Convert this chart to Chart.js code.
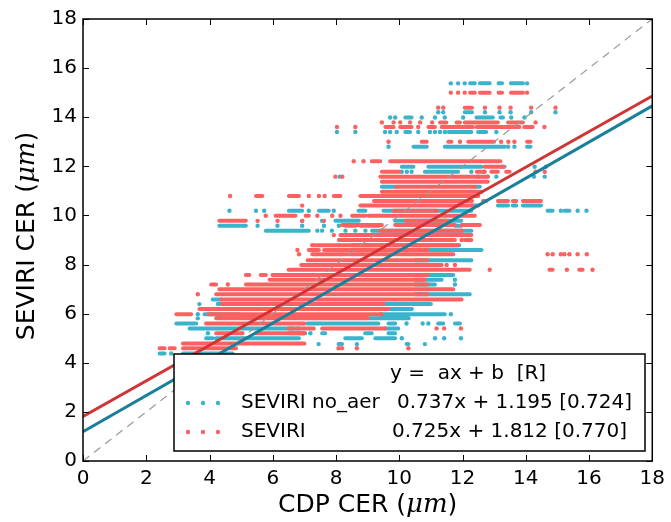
<!DOCTYPE html>
<html lang="en">
<head>
<meta charset="UTF-8" />
<title>SEVIRI CER vs CDP CER</title>
<script src="https://cdn.jsdelivr.net/npm/chart.js"></script>
<style>
  body { margin: 0; background: #fff; }
  canvas { display: block; }
</style>
</head>
<body>
<canvas id="grafico" width="671" height="522"></canvas>
<script>
  // ticks of both axes (µm)
  const axisTicks = [0, 2, 4, 6, 8, 10, 12, 14, 16, 18]

  // fit coefficients: y = a x + b [R]
  const fitNoAer = { a: 0.737, b: 1.195, r: 0.724 }
  const fitAer = { a: 0.725, b: 1.812, r: 0.770 }
  const fitX = [0, 18]
  const oneToOne = [0, 18]

  // SEVIRI CER comes out in discrete levels, so the scatter is a set of rows.
  // each row: [seviri CER, then CDP CER values]; a pair [x0, x1] is a run of
  // points packed so close together that they read as one stripe
  const noAerRows = [
    [15.38, 11.63, 11.86, 12.07, [12.24, 12.39], [12.55, 12.86], [13.14, 13.25], [13.53, 13.91], 14.04],
    [14.2, 11.23, 11.39, [12.07, 12.3], 12.71, 13.17, 13.52, 14.17, 14.94],
    [13.99, 9.71, 9.87, [10.19, 10.39], 10.71, 11.13, 11.44, 12.02, [12.44, 12.96], [13.2, 13.28], 13.54, 13.96],
    [13.4, 8.03, 8.61, 9.55, 9.71, 9.92, [10.19, 10.34], 10.6, 10.97, 11.13, 11.29, 11.44, [11.55, 12.28], [12.49, 12.75], 13.07],
    [12.8, 9.66, [10.45, 10.87], [11.44, 13.33], 13.44, 13.64, [14.04, 14.15]],
    [11.98, [10.08, 10.45], [10.92, 12.6], [13.23, 13.33], 14.28, 14.64],
    [11.78, 10.08, 10.24, 10.39, [10.81, 11.86], 12.28, 12.65],
    [11.58, 8.12, 12.49, 12.8, 13.07, 14.26, 14.6],
    [11.17, [9.45, 9.9], [12.4, 12.55]],
    [10.4, [12.3, 12.5], [13.12, 13.44], [13.59, 13.7], [13.91, 14.48]],
    [10.19, 4.63, 5.47, 5.73, [6.51, 6.93], 7.14, [7.46, 7.77], 7.93, [8.71, 8.93], [9.5, 12.28], [14.69, 14.85], 15.11, [15.22, 15.38], 15.64, 15.92],
    [9.78, 6.93, 7.56, [7.98, 8.72], [9.87, 11.96]],
    [9.58, [4.31, 5.15], 5.52, 6.15, 6.93, 7.62, 8.09, [8.3, 8.61], [8.77, 9.35], [11.76, 11.97]],
    [9.38, [5.78, 7.14], 7.41, 7.56, 7.87, 8.3, 8.61, 8.93, [9.14, 12.28]],
    [8.79, 8.09, [8.5, 11.9]],
    [8.59, [10.5, 12.6]],
    [8.18, [10.5, 12.28]],
    [7.57, [10.5, 11.71]],
    [7.38, [10.5, 11.34], 11.76],
    [7.19, [10.5, 11.13], 11.76],
    [6.79, [10.5, 12.23]],
    [6.58, [4.1, 4.37]],
    [6.39, 3.68, [4.26, 11.0]],
    [6.19, [9.66, 10.4]],
    [5.98, 3.63, [3.84, 4.94], [9.4, 11.44], 11.63],
    [5.81, 3.63, [9.0, 10.3]],
    [5.6, [2.95, 3.58], [7.09, 9.34], [9.66, 9.87], 10.23, 10.74, 10.92, [11.23, 11.39], [11.76, 11.92]],
    [5.4, [3.37, 6.83], [9.55, 9.97]],
    [5.2, 3.95, [6.51, 7.03], 7.19, [7.56, 7.66], [8.92, 9.13], [9.66, 9.87]],
    [5.0, [3.89, 4.1], [4.21, 6.83], [8.29, 8.82], [9.24, 9.87], 10.08, 11.13, 11.42, 11.95],
    [4.76, 7.45, [8.08, 8.19], 8.66, [10.23, 10.29], 10.81],
    [4.38, [2.42, 2.58], 2.79, [3.16, 4.73]]
  ]

  const aerRows = [
    [15.0, 11.63, 11.86, 12.07, [12.24, 12.39], [12.55, 12.86], [13.14, 13.25], [13.53, 13.91], 14.04],
    [14.39, 11.23, 11.39, [12.07, 12.3], 12.71, 13.17, 13.52, 14.17, 14.94],
    [13.79, 9.45, 9.82, 10.03, 10.34, 10.66, 11.04, [11.29, 11.49], [11.81, 11.92], [12.07, 13.12], [13.44, 13.91], 14.31],
    [13.6, 8.03, 8.61, [9.56, 9.82], [10.03, 10.39], 10.6, [10.92, 11.13], [11.34, 12.33], [12.45, 13.8], [13.95, 14.22], 14.59],
    [13.0, 9.66, [10.71, 10.87], [11.55, 11.65], 11.92, [12.18, 13.0], 13.22, 13.45, 13.64, [14.04, 14.15]],
    [12.21, 8.56, 8.87, [9.13, 9.4], [9.71, 13.2]],
    [11.98, [12.7, 13.3]],
    [11.78, [9.45, 10.0], [12.45, 12.6], 12.7, [12.91, 13.12], [13.38, 13.49], 14.31, 14.6],
    [11.58, 7.98, 8.2, [9.4, 12.8]],
    [11.37, [9.45, 12.8]],
    [11.17, [9.9, 12.4]],
    [10.97, [9.45, 12.6]],
    [10.79, 4.65, [5.47, 5.67], [6.51, 6.83], 7.14, 7.46, 7.64, [7.93, 8.14], [8.77, 12.5]],
    [10.59, [9.2, 12.3], [12.65, 12.75], [13.12, 13.44], [13.59, 13.7], [13.91, 14.48]],
    [10.4, 6.93, [8.77, 12.3]],
    [10.19, [9.82, 11.2]],
    [9.99, 5.78, [6.09, 6.72], [7.04, 7.14], 7.41, 7.88, 8.14, [8.51, 8.93], [9.03, 12.39]],
    [9.78, [4.31, 5.15], 5.52, 6.15, 6.93, 7.62, [10.2, 11.5]],
    [9.61, [8.19, 9.45], [9.87, 11.76], [11.97, 12.55]],
    [9.38, [9.4, 12.0]],
    [9.2, 7.93, [8.14, 12.28]],
    [9.0, [8.09, 11.76], 11.97, [12.07, 12.28]],
    [8.79, 7.25, [7.3, 11.86]],
    [8.59, 6.78, [7.14, 7.46], [7.62, 10.9]],
    [8.42, 6.83, [7.25, 11.71], 14.69, 14.85, 15.11, 15.22, 15.38, 15.64, 15.93],
    [8.18, [7.1, 10.9]],
    [7.98, [6.9, 11.34], 11.5, 11.76],
    [7.79, [6.5, 12.23], 12.86, [14.75, 14.85], 15.3, [15.69, 15.8], 16.11],
    [7.57, [5.15, 5.26], [5.62, 5.78], [5.99, 10.9]],
    [7.38, [5.9, 10.8]],
    [7.19, [4.05, 4.21], 4.58, [5.15, 10.9]],
    [6.99, [4.31, 11.71]],
    [6.79, 3.63, [4.21, 10.9]],
    [6.58, [4.37, 11.97]],
    [6.39, [4.4, 9.5]],
    [6.19, [3.68, 9.66]],
    [5.98, [2.95, 3.42], [3.97, 9.45]],
    [5.81, [4.21, 9.0]],
    [5.6, [3.89, 7.0]],
    [5.4, [6.5, 6.67], [6.77, 7.3], [7.56, 9.55], 11.18, 11.42, 11.95],
    [5.2, [4.21, 5.05], [5.47, 7.0]],
    [4.79, [3.16, 7.0]],
    [4.59, [2.42, 2.58], [2.74, 2.9], [3.16, 4.84], 8.08, 8.19, 8.66, 10.29]
  ]

  const corCiano = '#3ab4cb'
  const corSalmao = '#fc6161'
  const corLinhaAzul = '#18809a'
  const corLinhaVermelha = '#cf3535'

  // runs -> line segments, separated by a null so the line breaks
  function montarFaixas(linhas) {
    const pts = []
    for (const linha of linhas) {
      const y = linha[0]
      for (const item of linha.slice(1)) {
        if (Array.isArray(item)) {
          pts.push({ x: item[0], y: y }, { x: item[1], y: y }, { x: item[1], y: null })
        }
      }
    }
    return pts
  }

  function montarPontos(linhas) {
    const pts = []
    for (const linha of linhas) {
      for (const item of linha.slice(1)) {
        if (!Array.isArray(item)) pts.push({ x: item, y: linha[0] })
      }
    }
    return pts
  }

  function retaAjuste(fit) {
    return fitX.map(x => ({ x: x, y: fit.a * x + fit.b }))
  }

  function faixa(linhas, cor, ordem) {
    return {
      data: montarFaixas(linhas),
      showLine: true,
      spanGaps: false,
      borderColor: cor,
      borderWidth: 4,
      borderCapStyle: 'round',
      pointRadius: 0,
      order: ordem
    }
  }

  function pontos(linhas, cor, ordem) {
    return {
      data: montarPontos(linhas),
      pointRadius: 2.2,
      pointBorderWidth: 0,
      pointBackgroundColor: cor,
      order: ordem
    }
  }

  const fonte = '"DejaVu Sans", sans-serif'

  // frame with inward ticks on all four sides (matplotlib classic look)
  const moldura = {
    id: 'moldura',
    afterDatasetsDraw(chart) {
      const { ctx, chartArea: a, scales } = chart
      ctx.save()
      ctx.strokeStyle = '#000'
      ctx.lineWidth = 1
      for (const v of axisTicks) {
        const px = Math.round(scales.x.getPixelForValue(v)) + 0.5
        const py = Math.round(scales.y.getPixelForValue(v)) + 0.5
        ctx.beginPath()
        ctx.moveTo(px, a.bottom); ctx.lineTo(px, a.bottom - 6)
        ctx.moveTo(px, a.top); ctx.lineTo(px, a.top + 6)
        ctx.moveTo(a.left, py); ctx.lineTo(a.left + 6, py)
        ctx.moveTo(a.right, py); ctx.lineTo(a.right - 6, py)
        ctx.stroke()
      }
      ctx.lineWidth = 1.5
      ctx.strokeRect(a.left, a.top, a.right - a.left, a.bottom - a.top)
      ctx.restore()
    }
  }

  // axis titles: "(µm)" in math italic like the original
  function tituloMisto(ctx, partes, cx, cy) {
    let total = 0
    for (const p of partes) { ctx.font = p[1]; total += ctx.measureText(p[0]).width }
    let x = cx - total / 2
    ctx.textBaseline = 'middle'
    ctx.textAlign = 'left'
    for (const p of partes) {
      ctx.font = p[1]
      ctx.fillText(p[0], x, cy)
      x += ctx.measureText(p[0]).width
    }
  }

  const titulos = {
    id: 'titulos',
    afterDraw(chart) {
      const { ctx, chartArea: a } = chart
      const reg = '25px ' + fonte
      const ita = 'italic 26px "DejaVu Serif", serif'
      ctx.save()
      ctx.fillStyle = '#000'
      tituloMisto(ctx, [['CDP CER (', reg], ['\u03bcm', ita], [')', reg]], (a.left + a.right) / 2, 505)
      ctx.translate(27, 236)
      ctx.rotate(-Math.PI / 2)
      tituloMisto(ctx, [['SEVIRI CER (', reg], ['\u03bcm', ita], [')', reg]], 0, 0)
      ctx.restore()
    }
  }

  const legenda = {
    id: 'legenda',
    afterDraw(chart) {
      const ctx = chart.ctx
      ctx.save()
      ctx.fillStyle = '#fff'
      ctx.fillRect(174, 354, 471, 97)
      ctx.strokeStyle = '#000'
      ctx.lineWidth = 1.5
      ctx.strokeRect(174, 354, 471, 97)
      ctx.font = '20px ' + fonte
      ctx.textBaseline = 'middle'
      ctx.fillStyle = '#000'
      ctx.fillText('y =  ax + b  [R]', 390, 374)
      const linhas = [
        [corCiano, 'SEVIRI no_aer', fitNoAer, 397, 403],
        [corSalmao, 'SEVIRI', fitAer, 392, 432]
      ]
      for (const [cor, nome, fit, xCol, y] of linhas) {
        ctx.fillStyle = cor
        for (const mx of [188, 203, 218]) {
          ctx.beginPath(); ctx.arc(mx, y, 2.2, 0, Math.PI * 2); ctx.fill()
        }
        ctx.fillStyle = '#000'
        ctx.fillText(nome, 241, y)
        ctx.fillText(fit.a.toFixed(3) + 'x + ' + fit.b.toFixed(3) + ' [' + fit.r.toFixed(3) + ']', xCol, y)
      }
      ctx.restore()
    }
  }

  const eixo = {
    type: 'linear',
    min: 0,
    max: 18,
    afterBuildTicks: s => { s.ticks = axisTicks.map(v => ({ value: v })) },
    grid: { display: false, drawTicks: false },
    border: { display: false },
    ticks: { color: '#000', font: { family: fonte, size: 20 }, padding: 6 }
  }

  new Chart(document.getElementById('grafico'), {
    type: 'scatter',
    data: {
      datasets: [
        { data: retaAjuste(fitAer), showLine: true, borderColor: corLinhaVermelha, borderWidth: 3, pointRadius: 0, order: 0 },
        { data: retaAjuste(fitNoAer), showLine: true, borderColor: corLinhaAzul, borderWidth: 3, pointRadius: 0, order: 0 },
        { data: oneToOne.map(v => ({ x: v, y: v })), showLine: true, borderColor: '#999999', borderWidth: 1.2, borderDash: [8, 6], pointRadius: 0, order: 1 },
        faixa(aerRows, corSalmao, 2),
        pontos(aerRows, corSalmao, 2),
        faixa(noAerRows, corCiano, 3),
        pontos(noAerRows, corCiano, 3)
      ]
    },
    options: {
      responsive: false,
      animation: false,
      devicePixelRatio: 1,
      events: [],
      layout: { padding: { top: 19, right: 16, left: 0, bottom: 0 } },
      plugins: { legend: { display: false }, tooltip: { enabled: false } },
      scales: {
        x: { ...eixo, afterFit: s => { s.height = 61 } },
        y: { ...eixo, afterFit: s => { s.width = 83 } }
      }
    },
    plugins: [moldura, titulos, legenda]
  })
</script>
</body>
</html>
